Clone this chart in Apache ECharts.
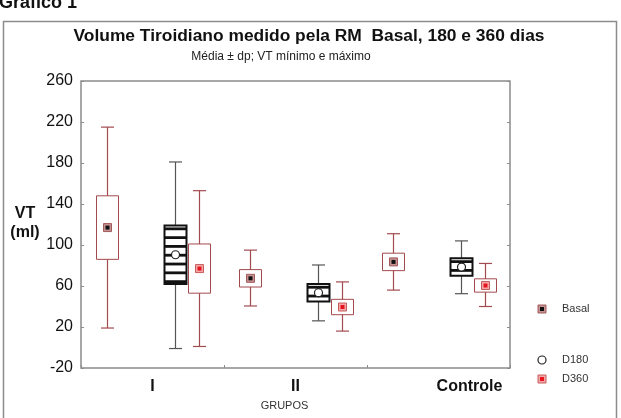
<!DOCTYPE html>
<html>
<head>
<meta charset="utf-8">
<script src="https://cdn.jsdelivr.net/npm/echarts@6/dist/echarts.min.js"></script>
<style>
  html, body { margin: 0; padding: 0; background: #fff; }
  #chart { width: 621px; height: 418px; }
</style>
</head>
<body>
<div id="chart"></div>
<script>
// dados (média, dp, mínimo, máximo)
const grupos = ['I', 'II', 'Controle'];

const basalMedia = [117, 67.5, 83.5];
const basalDp = [31, 8.5, 8.5];
const basalMin = [19, 40.5, 56];
const basalMax = [215, 95, 111];

const d180Media = [90.5, 53.5, 78.5];
const d180Dp = [28.5, 8.5, 8.5];
const d180Min = [-1, 26, 52.5];
const d180Max = [181, 80.5, 104];

const d360Media = [77, 39.5, 60.5];
const d360Dp = [24, 7.5, 6.5];
const d360Min = [1, 16, 40];
const d360Max = [153, 64, 82];

const yMin = -20, yMax = 260, yStep = 40;

const FONT = '"Liberation Sans", Arial, sans-serif';
const RED = '#a34a4e';

const chart = echarts.init(document.getElementById('chart'));

// marcadores
function markerShapes(kind, x, y) {
  if (kind === 'basal') {
    return [
      { type: 'rect', shape: { x: x - 4, y: y - 4, width: 8, height: 8 }, style: { fill: '#c49292', stroke: '#a35a5a', lineWidth: 1 } },
      { type: 'rect', shape: { x: x - 2, y: y - 2, width: 4, height: 4 }, style: { fill: '#111' } }
    ];
  }
  if (kind === 'd360') {
    return [
      { type: 'rect', shape: { x: x - 4, y: y - 4, width: 8, height: 8 }, style: { fill: '#f2a8a8', stroke: '#c85c5c', lineWidth: 1 } },
      { type: 'rect', shape: { x: x - 2, y: y - 2, width: 4, height: 4 }, style: { fill: '#e8141c' } }
    ];
  }
  return [
    { type: 'circle', shape: { cx: x, cy: y, r: 4 }, style: { fill: '#fff', stroke: '#222', lineWidth: 1.2 } }
  ];
}

function boxSeries(name, media, dp, min, max, opt) {
  return {
    name: name,
    type: 'custom',
    z: opt.z,
    data: grupos.map((g, i) => [i, min[i], media[i] - dp[i], media[i], media[i] + dp[i], max[i]]),
    encode: { x: 0, y: [1, 2, 3, 4, 5] },
    renderItem: (params, api) => {
      const c = api.value(0);
      const x = Math.round(api.coord([c, 0])[0] + opt.offset) + 0.5;
      const pMin = api.coord([c, api.value(1)])[1];
      const pLo = api.coord([c, api.value(2)])[1];
      const pMid = api.coord([c, api.value(3)])[1];
      const pHi = api.coord([c, api.value(4)])[1];
      const pMax = api.coord([c, api.value(5)])[1];
      const hw = 11, cap = 6.5;
      const children = [
        { type: 'line', shape: { x1: x, y1: pMax, x2: x, y2: pMin }, style: { stroke: opt.whisker, lineWidth: 1.2 } },
        { type: 'line', shape: { x1: x - cap, y1: pMax, x2: x + cap, y2: pMax }, style: { stroke: opt.whisker, lineWidth: 1.2 } },
        { type: 'line', shape: { x1: x - cap, y1: pMin, x2: x + cap, y2: pMin }, style: { stroke: opt.whisker, lineWidth: 1.2 } },
        { type: 'rect', shape: { x: x - hw, y: pHi, width: hw * 2, height: pLo - pHi }, style: { fill: '#fff', stroke: opt.box, lineWidth: opt.boxWidth } }
      ];
      if (opt.stripes) {
        for (let yy = pHi + 3.3; yy < pLo - 1.5; yy += 8.8) {
          children.push({ type: 'rect', shape: { x: x - hw, y: yy - 1.4, width: hw * 2, height: 2.8 }, style: { fill: '#111' } });
        }
      }
      markerShapes(opt.kind, x, pMid).forEach(s => children.push(s));
      return { type: 'group', children: children };
    }
  };
}

// legenda desenhada à parte (posições como no original)
const legenda = [
  { kind: 'basal', label: 'Basal', y: 309 },
  { kind: 'd180', label: 'D180', y: 360 },
  { kind: 'd360', label: 'D360', y: 379 }
];
const legendGraphics = [];
legenda.forEach(it => {
  markerShapes(it.kind, 542, it.y).forEach(s => legendGraphics.push(s));
  legendGraphics.push({
    type: 'text', x: 562, y: it.y,
    style: { text: it.label, fontFamily: FONT, fontSize: 11, fill: '#333', verticalAlign: 'middle' }
  });
});

const option = {
  backgroundColor: '#fff',
  animation: false,
  title: [
    {
      text: 'Volume Tiroidiano medido pela RM  Basal, 180 e 360 dias',
      left: 304, top: 23, textAlign: 'center',
      textStyle: { fontFamily: FONT, fontSize: 17.4, fontWeight: 'bold', color: '#111' }
    },
    {
      text: 'Média ± dp; VT mínimo e máximo',
      left: 276, top: 46, textAlign: 'center',
      textStyle: { fontFamily: FONT, fontSize: 12, fontWeight: 'normal', color: '#222' }
    }
  ],
  grid: {
    left: 81, top: 81, right: 111, bottom: 50,
    show: true, borderColor: '#8c8c8c', borderWidth: 1.5
  },
  xAxis: {
    type: 'category',
    data: grupos,
    boundaryGap: true,
    axisLine: { show: false, onZero: false },
    axisTick: { show: true, inside: true, length: 3, lineStyle: { color: '#8c8c8c' } },
    axisLabel: {
      margin: 11,
      fontFamily: FONT, fontSize: 16, fontWeight: 'bold', color: '#111',
      formatter: v => v === 'Controle' ? '{c|' + v + '}' : v,
      rich: { c: { fontFamily: FONT, fontSize: 16, fontWeight: 'bold', color: '#111', padding: [0, 0, 0, 62] } }
    },
    name: 'GRUPOS',
    nameLocation: 'middle',
    nameGap: 32,
    nameTextStyle: { fontFamily: FONT, fontSize: 11, color: '#333', padding: [0, 22, 0, 0] }
  },
  yAxis: [
    {
      type: 'value', min: yMin, max: yMax, interval: yStep,
      axisLine: { show: false },
      splitLine: { show: false },
      axisTick: { show: true, inside: true, length: 3, lineStyle: { color: '#8c8c8c' } },
      axisLabel: { margin: 8, fontFamily: FONT, fontSize: 16, color: '#111' }
    },
    {
      type: 'value', position: 'right', min: yMin, max: yMax, interval: yStep,
      axisLine: { show: false },
      splitLine: { show: false },
      axisTick: { show: true, inside: true, length: 3, lineStyle: { color: '#8c8c8c' } },
      axisLabel: { show: false }
    }
  ],
  graphic: [
    {
      type: 'text', x: -1, y: 12,
      style: { text: 'Gráfico 1', fontFamily: FONT, fontSize: 18, fontWeight: 'bold', fill: '#111', verticalAlign: 'bottom' }
    },
    { type: 'rect', shape: { x: 3.5, y: 21.5, width: 613, height: 420 }, style: { fill: 'none', stroke: '#8c8c8c', lineWidth: 1.5 }, z: -1 },
    {
      type: 'text', x: 25, y: 223,
      style: { text: 'VT\n(ml)', fontFamily: FONT, fontSize: 16, fontWeight: 'bold', fill: '#111', align: 'center', verticalAlign: 'middle', lineHeight: 19 }
    },
    { type: 'group', children: legendGraphics }
  ],
  series: [
    boxSeries('Basal', basalMedia, basalDp, basalMin, basalMax,
      { offset: -45.5, kind: 'basal', whisker: RED, box: RED, boxWidth: 1, z: 3 }),
    boxSeries('D180', d180Media, d180Dp, d180Min, d180Max,
      { offset: 22.5, kind: 'd180', whisker: '#555', box: '#111', boxWidth: 2, stripes: true, z: 2 }),
    boxSeries('D360', d360Media, d360Dp, d360Min, d360Max,
      { offset: 46, kind: 'd360', whisker: RED, box: RED, boxWidth: 1, z: 3 })
  ]
};

chart.setOption(option);
</script>
</body>
</html>
